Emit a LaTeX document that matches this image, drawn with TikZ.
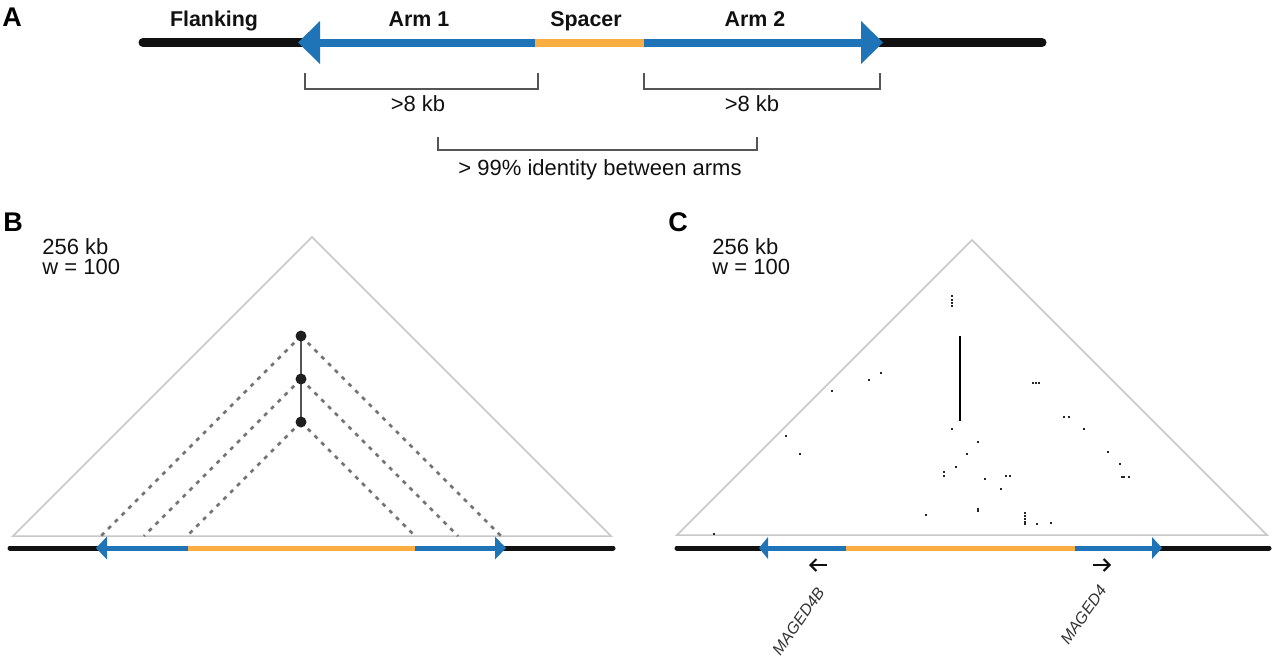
\documentclass[tikz,border=0pt]{standalone}
\usepackage{fontspec}
\setmainfont{Liberation Sans}
\usetikzlibrary{arrows.meta}
\definecolor{armblue}{RGB}{31,115,183}
\definecolor{spacerorange}{RGB}{250,174,66}
\definecolor{flankblack}{RGB}{17,17,17}
\definecolor{bracketgray}{RGB}{85,85,85}
\definecolor{trigray}{RGB}{200,200,200}
\definecolor{dashgray}{RGB}{115,115,115}
\definecolor{dotblack}{RGB}{30,30,30}
\begin{document}
\begin{tikzpicture}[x=0.5pt,y=-0.5pt,
  panellabel/.style={font=\bfseries\fontsize{13.5}{16}\selectfont, anchor=base west, inner sep=0pt},
  partlabel/.style={font=\bfseries\fontsize{10.7}{13}\selectfont, anchor=base, inner sep=0pt, text=flankblack},
  plaintext/.style={font=\fontsize{11}{13}\selectfont, anchor=base, inner sep=0pt, text=flankblack},
  genelabel/.style={font=\itshape\fontsize{8}{10}\selectfont, text=black!80, inner sep=0pt, rotate=55, anchor=east},
  bracketline/.style={draw=bracketgray, line width=0.75pt},
  flankA/.style={draw=flankblack, line width=4.5pt, line cap=round},
  flankBC/.style={draw=flankblack, line width=2.5pt, line cap=round},
  tri/.style={draw=trigray, line width=0.75pt, line join=miter},
  dashlink/.style={draw=dashgray, line width=1.3pt, dash pattern=on 2pt off 2.8pt},
  dotnode/.style={fill=dotblack},
  speck/.style={fill=black!85},
  dirarrow/.style={draw=flankblack, line width=1pt, -{Straight Barb[length=3pt,width=6pt]}}
]
\useasboundingbox (0,0) rectangle (1280,660);

%================ Panel A ================
\node[panellabel] (labA) at (2,26) {A};
\draw[flankA] (143,42.5) -- (302,42.5);
\draw[flankA] (880,42.5) -- (1042,42.5);
\fill[armblue] (318,38.5) rectangle (536,46.5);
\fill[spacerorange] (535,38.5) rectangle (645,46.5);
\fill[armblue] (644,38.5) rectangle (863,46.5);
\fill[armblue] (298,42.5) -- (320,21) -- (320,64) -- cycle;
\fill[armblue] (883,42.5) -- (861,21) -- (861,64) -- cycle;

\node[partlabel] (flanking) at (214,26) {Flanking};
\node[partlabel] (arm1) at (419,26) {Arm 1};
\node[partlabel] (spacer) at (586,26) {Spacer};
\node[partlabel] (arm2) at (755,26) {Arm 2};

\draw[bracketline] (305,73) -- (305,89) -- (538,89) -- (538,73);
\draw[bracketline] (644,73) -- (644,89) -- (880,89) -- (880,73);
\draw[bracketline] (438,137) -- (438,150) -- (757,150) -- (757,137);
\node[plaintext] (len1) at (418,111) {>8 kb};
\node[plaintext] (len2) at (752,111) {>8 kb};
\node[plaintext] (ident) at (600,175) {> 99\% identity between arms};

%================ Panel B ================
\node[panellabel] (labB) at (3,231) {B};
\node[plaintext, anchor=base west] (sizeB) at (42,254) {256 kb};
\node[plaintext, anchor=base west] (winB) at (42,274) {w = 100};
\draw[tri] (13,536) -- (312,237) -- (611,536) -- cycle;

\coordinate (d1) at (301,336);
\coordinate (d2) at (301,379);
\coordinate (d3) at (301,422);
\coordinate (o1l) at (101,536);
\coordinate (o1r) at (501,536);
\coordinate (o2l) at (144,536);
\coordinate (o2r) at (458,536);
\coordinate (o3l) at (187,536);
\coordinate (o3r) at (415,536);
\draw[dashlink] (d1) -- (o1l);
\draw[dashlink] (d1) -- (o1r);
\draw[dashlink] (d2) -- (o2l);
\draw[dashlink] (d2) -- (o2r);
\draw[dashlink] (d3) -- (o3l);
\draw[dashlink] (d3) -- (o3r);
\draw[draw=bracketgray, line width=1pt] (d1) -- (d3);
\foreach \d in {d1,d2,d3} \fill[dotnode] (\d) circle[radius=5.5];

\draw[flankBC] (10,548) -- (99,548);
\draw[flankBC] (503,548) -- (613,548);
\fill[armblue] (106,545.5) rectangle (188.5,550.5);
\fill[spacerorange] (188,545.5) rectangle (415.5,550.5);
\fill[armblue] (415,545.5) rectangle (496,550.5);
\fill[armblue] (96,548) -- (107,536.5) -- (107,559.5) -- cycle;
\fill[armblue] (506,548) -- (495,536.5) -- (495,559.5) -- cycle;

%================ Panel C ================
\node[panellabel] (labC) at (668,231) {C};
\node[plaintext, anchor=base west] (sizeC) at (712,254) {256 kb};
\node[plaintext, anchor=base west] (winC) at (712,274) {w = 100};
\draw[tri] (677,535) -- (972,240) -- (1267,535) -- cycle;

\draw[black, line width=1pt] (960,336) -- (960,421);
\foreach \p in {(952,296),(952,299.5),(952,302.5),(952,306),(881,373),(869,380),(832,391),(786,436),(800,454),(926,515),(714,534),(952,429),(978,442),(967,454),(956,467),(944,472),(944,476),(985,479),(1006,476),(1010,476),(1001,489),(978,509),(978,511),(1025,513),(1025,516),(1025,519),(1025,521.5),(1025,524),(1037,524),(1051,523),(1033,383),(1036,383),(1039,383),(1064,417),(1069,417),(1084,429),(1108,452),(1120,464),(1122,477),(1124,477),(1129,477)}
  \fill[speck] \p ++(-1,-1) rectangle ++(2,2);

\draw[flankBC] (677,548) -- (762,548);
\draw[flankBC] (1159,548) -- (1269,548);
\fill[armblue] (767,545.5) rectangle (846.5,550.5);
\fill[spacerorange] (846,545.5) rectangle (1075.5,550.5);
\fill[armblue] (1075,545.5) rectangle (1153,550.5);
\fill[armblue] (759,548) -- (768,537) -- (768,559) -- cycle;
\fill[armblue] (1162,548) -- (1152,537) -- (1152,559) -- cycle;

\coordinate (a1s) at (827,565);
\coordinate (a1e) at (809,565);
\coordinate (a2s) at (1093,565);
\coordinate (a2e) at (1111,565);
\draw[dirarrow] (a1s) -- (a1e);
\draw[dirarrow] (a2s) -- (a2e);
\node[genelabel] (gene1) at (821,589) {MAGED4B};
\node[genelabel] (gene2) at (1103,587) {MAGED4};
\end{tikzpicture}
\end{document}
